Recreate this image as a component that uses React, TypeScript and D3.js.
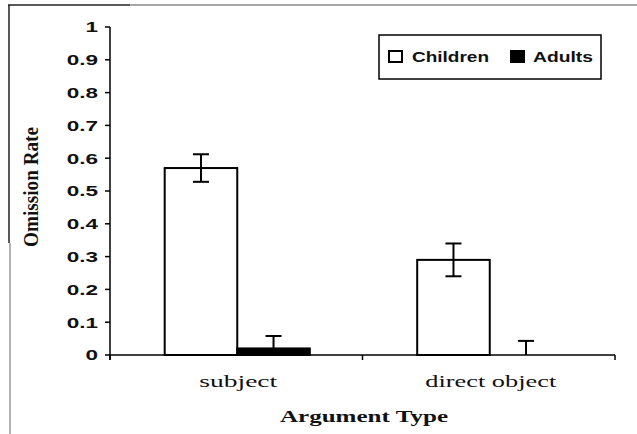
import React from "react";
import * as d3 from "d3";

const categories = ["subject", "direct object"];
const seriesNames = ["Children", "Adults"];
const childrenValues = [0.57, 0.29];
const childrenErrors = [0.042, 0.05];
const adultsValues = [0.02, 0.0];
const adultsErrors = [0.038, 0.043];
const yTicks = [0, 0.1, 0.2, 0.3, 0.4, 0.5, 0.6, 0.7, 0.8, 0.9, 1];
const yTitle = "Omission Rate";
const xTitle = "Argument Type";

const W = 637;
const H = 434;
const SANS = "'Liberation Sans', Arial, sans-serif";
const SERIF = "'Liberation Serif', 'Times New Roman', serif";

export default function App() {
  const y = d3.scaleLinear().domain([0, 1]).range([355, 27]);
  const x = d3.scaleBand<string>().domain(categories).range([111, 616]).paddingInner(0).paddingOuter(0);
  const xs = d3
    .scaleBand<string>()
    .domain(seriesNames)
    .range([0, x.bandwidth()])
    .paddingInner(0)
    .paddingOuter(0.74);
  const [r0, r1] = x.range();
  const axisLeft = 110;

  const series = [
    { name: "Children", values: childrenValues, errors: childrenErrors, fill: "#fff" },
    { name: "Adults", values: adultsValues, errors: adultsErrors, fill: "#000" },
  ];

  const catLabelLen: Record<string, number> = { subject: 78, "direct object": 131 };

  return (
    <svg
      width={W}
      height={H}
      style={{ position: "absolute", left: 0, top: 0, background: "#fff" }}
    >
      {/* frame lines */}
      <line x1={8} y1={5} x2={130} y2={5} stroke="#222" strokeWidth={1.5} />
      <line x1={130} y1={5} x2={637} y2={5} stroke="#888" strokeWidth={1.5} />
      <line x1={9} y1={5} x2={9} y2={243} stroke="#222" strokeWidth={1.5} />
      <line x1={10} y1={243} x2={10} y2={434} stroke="#999" strokeWidth={1.5} />

      {/* y axis */}
      <line x1={axisLeft} y1={y(1)} x2={axisLeft} y2={y(0) + 5} stroke="#000" strokeWidth={1.5} />
      {yTicks.map((t) => (
        <g key={t}>
          <line x1={axisLeft - 5} x2={axisLeft} y1={y(t)} y2={y(t)} stroke="#000" strokeWidth={1.5} />
          <text
            transform={`translate(98,${y(t)}) scale(1.5,1)`}
            textAnchor="end"
            dy="0.36em"
            fontFamily={SANS}
            fontWeight="bold"
            fontSize={15}
            fill="#111"
          >
            {String(t)}
          </text>
        </g>
      ))}

      {/* bars */}
      {series.map((s) =>
        categories.map((c, i) => {
          const bx = (x(c) ?? 0) + (xs(s.name) ?? 0);
          const bw = xs.bandwidth();
          const top = y(s.values[i]);
          return (
            <rect
              key={s.name + c}
              x={bx}
              y={top}
              width={bw}
              height={Math.max(y(0) - top, 0)}
              fill={s.fill}
              stroke="#000"
              strokeWidth={2}
            />
          );
        })
      )}

      {/* x axis */}
      <line x1={axisLeft} y1={y(0)} x2={r1 - 1} y2={y(0)} stroke="#000" strokeWidth={1.5} />
      {[r0, ...categories.map((c) => (x(c) ?? 0) + x.bandwidth())].map((tx, i) => (
        <line key={i} x1={tx - 1} x2={tx - 1} y1={y(0)} y2={y(0) + 5} stroke="#000" strokeWidth={1.5} />
      ))}

      {/* error bars */}
      {series.map((s) =>
        categories.map((c, i) => {
          const cx = (x(c) ?? 0) + (xs(s.name) ?? 0) + xs.bandwidth() / 2;
          const hi = y(s.values[i] + s.errors[i]);
          const lo = y(Math.max(s.values[i] - s.errors[i], 0));
          const showLow = s.values[i] - s.errors[i] > 0;
          return (
            <g key={"e" + s.name + c} stroke={s.name === "Adults" ? "#000" : "#000"} strokeWidth={2}>
              <line x1={cx} x2={cx} y1={hi} y2={lo} />
              <line x1={cx - 8} x2={cx + 8} y1={hi} y2={hi} />
              {showLow && <line x1={cx - 8} x2={cx + 8} y1={lo} y2={lo} />}
            </g>
          );
        })
      )}

      {/* category labels */}
      {categories.map((c) => (
        <text
          key={c}
          x={(x(c) ?? 0) + x.bandwidth() / 2 + 1}
          y={387}
          textAnchor="middle"
          fontFamily={SERIF}
          fontSize={16}
          fill="#111"
          textLength={catLabelLen[c]}
          lengthAdjust="spacingAndGlyphs"
        >
          {c}
        </text>
      ))}

      {/* x title */}
      <text
        x={364}
        y={422}
        textAnchor="middle"
        fontFamily={SERIF}
        fontWeight="bold"
        fontSize={16}
        fill="#111"
        textLength={168}
        lengthAdjust="spacingAndGlyphs"
      >
        {xTitle}
      </text>

      {/* y title */}
      <text
        transform={`translate(38,187) scale(1.35,1) rotate(-90)`}
        textAnchor="middle"
        fontFamily={SERIF}
        fontWeight="bold"
        fontSize={15}
        fill="#111"
        textLength={120}
        lengthAdjust="spacingAndGlyphs"
      >
        {yTitle}
      </text>

      {/* legend */}
      <rect x={379} y={35} width={222} height={44} fill="#fff" stroke="#000" strokeWidth={1.5} />
      <rect x={389} y={51} width={13} height={11} fill="#fff" stroke="#000" strokeWidth={2} />
      <text
        x={412}
        y={62}
        fontFamily={SANS}
        fontWeight="bold"
        fontSize={15}
        fill="#111"
        textLength={77}
        lengthAdjust="spacingAndGlyphs"
      >
        {seriesNames[0]}
      </text>
      <rect x={511} y={51} width={13} height={11} fill="#000" stroke="#000" strokeWidth={2} />
      <text
        x={533}
        y={62}
        fontFamily={SANS}
        fontWeight="bold"
        fontSize={15}
        fill="#111"
        textLength={60}
        lengthAdjust="spacingAndGlyphs"
      >
        {seriesNames[1]}
      </text>
    </svg>
  );
}
